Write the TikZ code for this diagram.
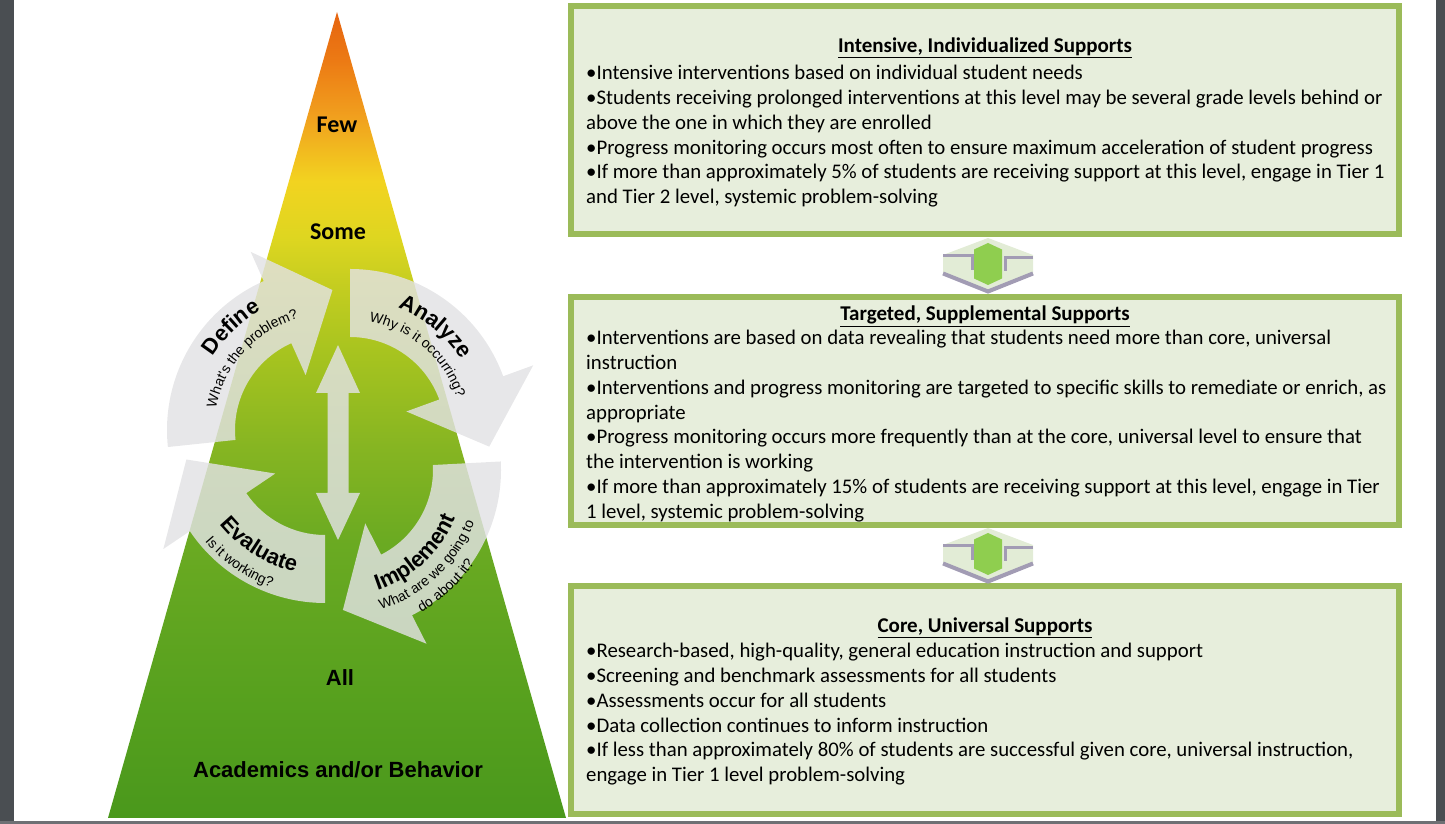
\documentclass[tikz,border=0pt]{standalone}
\usepackage{fontspec}
\setmainfont{Carlito}
\newfontfamily\cyclefont{Liberation Sans}
\usetikzlibrary{positioning,calc,decorations.text}

\definecolor{boxgreen}{RGB}{155,187,89}
\definecolor{boxfill}{RGB}{231,238,220}
\definecolor{edgegray}{RGB}{74,78,82}
\definecolor{bottomgray}{RGB}{110,112,116}
\definecolor{arrowgray}{RGB}{226,226,228}
\definecolor{linkgreen}{RGB}{143,206,79}
\definecolor{linkpale}{RGB}{226,236,214}
\definecolor{linkshade}{RGB}{162,156,180}
\definecolor{pyrA}{RGB}{74,152,28}
\definecolor{pyrB}{RGB}{86,160,30}
\definecolor{pyrC}{RGB}{106,170,34}
\definecolor{pyrD}{RGB}{134,181,34}
\definecolor{pyrE}{RGB}{168,196,31}
\definecolor{pyrF}{RGB}{196,205,32}
\definecolor{pyrG}{RGB}{222,214,32}
\definecolor{pyrH}{RGB}{242,211,32}
\definecolor{pyrI}{RGB}{241,160,30}
\definecolor{pyrJ}{RGB}{236,122,20}
\definecolor{pyrK}{RGB}{230,100,16}

\pgfdeclareverticalshading{pyramidshade}{100bp}{color(0bp)=(pyrA); color(25bp)=(pyrA); color(32bp)=(pyrB); color(42bp)=(pyrC); color(48bp)=(pyrD); color(54bp)=(pyrE); color(58bp)=(pyrF); color(61bp)=(pyrG); color(64.5bp)=(pyrH); color(68.5bp)=(pyrI); color(72bp)=(pyrJ); color(75bp)=(pyrK); color(100bp)=(pyrK)}

\newcommand\stagefont{\cyclefont\bfseries\fontsize{22}{24}\selectfont}
\newcommand\askfont{\cyclefont\fontsize{14}{16}\selectfont}

\begin{document}
\begin{tikzpicture}[x=1pt,y=1pt,
    tierbox/.style={draw=boxgreen,fill=boxfill,line width=6pt,rectangle,minimum width=828pt,minimum height=228pt,inner sep=0pt,outer sep=0pt},
    tiertitle/.style={inner sep=0pt,font=\bfseries\fontsize{21}{24}\selectfont},
    tiertext/.style={inner sep=0pt,align=left,font=\fontsize{20.8}{24.8}\selectfont},
    tierlabel/.style={inner sep=0pt,font=\bfseries\fontsize{24}{28}\selectfont},
    baselabel/.style={inner sep=0pt,font=\cyclefont\bfseries\fontsize{22}{26}\selectfont},
    cyclearrow/.style={fill=arrowgray,fill opacity=0.82},
    steptext/.style={decorate,decoration={text along path,text align=center,text={#1}}}]
    \useasboundingbox (0,0) rectangle (1445,824);

    % pyramid
    \coordinate (apex) at (337,812);
    \coordinate (baseleft) at (108,6);
    \coordinate (baseright) at (566,6);
    \shade[shading=pyramidshade] (baseleft) -- (apex) -- (baseright) -- cycle;

    \node (few) [tierlabel] at (337,699) {Few};
    \node (some) [tierlabel] at (338,592) {Some};
    \node (all) [baselabel] at (340,146) {All};
    \node (academics) [baselabel] at (338,54) {Academics and/or Behavior};

    % problem-solving cycle
    \foreach \cx/\cy/\ta/\tb/\tt in {330/394/186/114/89, 350/392/90/20/-6, 338/354/3/-63/-88, 325/384/-90/-146/-172}{
        \begin{scope}[shift={(\cx,\cy)}]
            \fill[cyclearrow] (\ta:163) arc[start angle=\ta,end angle=\tb,radius=163] -- (\tb:195) -- (\tt:140) -- (\tb:60) -- (\tb:95) arc[start angle=\tb,end angle=\ta,radius=95] -- cycle;
        \end{scope}
    }
    \fill[cyclearrow] (338,479) -- (360,431) -- (348.5,431) -- (348.5,331) -- (360,331) -- (338,284) -- (316,331) -- (327.5,331) -- (327.5,431) -- (316,431) -- cycle;

    \begin{scope}[shift={(330,394)}]
        \path[steptext={|\stagefont|Define}] (172:138) arc[start angle=172,end angle=96,radius=138];
        \path[steptext={|\askfont|What's the problem?}] (185:116) arc[start angle=185,end angle=90,radius=116];
    \end{scope}
    \begin{scope}[shift={(350,392)}]
        \path[steptext={|\stagefont|Analyze}] (96:133) arc[start angle=96,end angle=6,radius=133];
        \path[steptext={|\askfont|Why is it occurring?}] (94:112) arc[start angle=94,end angle=4,radius=112];
    \end{scope}
    \begin{scope}[shift={(338,354)}]
        \path[steptext={|\stagefont|Implement}] (-92:127) arc[start angle=-92,end angle=-2,radius=127];
        \path[steptext={|\askfont|What are we going to}] (-92:146) arc[start angle=-92,end angle=-2,radius=146];
        \path[steptext={|\askfont|do about it?}] (-92:165) arc[start angle=-92,end angle=-2,radius=165];
    \end{scope}
    \begin{scope}[shift={(325,384)}]
        \path[steptext={|\stagefont|Evaluate}] (193:135) arc[start angle=193,end angle=283,radius=135];
        \path[steptext={|\askfont|Is it working?}] (190:157) arc[start angle=190,end angle=280,radius=157];
    \end{scope}

    % tiers
    \node (intensive) [tierbox] at (985,704) {};
    \node (targeted) [tierbox] at (985,413) {};
    \node (core) [tierbox] at (985,124) {};

    \node (intensivetitle) [tiertitle,below=32pt of intensive.north] {\underline{Intensive, Individualized Supports}};
    \node (intensivetext) [tiertext,below right=59pt and 15pt of intensive.north west] {%
        •Intensive interventions based on individual student needs\\
        •Students receiving prolonged interventions at this level may be several grade levels behind or\\
        above the one in which they are enrolled\\
        •Progress monitoring occurs most often to ensure maximum acceleration of student progress\\
        •If more than approximately 5\% of students are receiving support at this level, engage in Tier 1\\
        and Tier 2 level, systemic problem-solving};

    \node (targetedtitle) [tiertitle,below=9pt of targeted.north] {\underline{Targeted, Supplemental Supports}};
    \node (targetedtext) [tiertext,below right=33pt and 15pt of targeted.north west] {%
        •Interventions are based on data revealing that students need more than core, universal\\
        instruction\\
        •Interventions and progress monitoring are targeted to specific skills to remediate or enrich, as\\
        appropriate\\
        •Progress monitoring occurs more frequently than at the core, universal level to ensure that\\
        the intervention is working\\
        •If more than approximately 15\% of students are receiving support at this level, engage in Tier\\
        1 level, systemic problem-solving};

    \node (coretitle) [tiertitle,below=32pt of core.north] {\underline{Core, Universal Supports}};
    \node (coretext) [tiertext,below right=57pt and 15pt of core.north west] {%
        •Research-based, high-quality, general education instruction and support\\
        •Screening and benchmark assessments for all students\\
        •Assessments occur for all students\\
        •Data collection continues to inform instruction\\
        •If less than approximately 80\% of students are successful given core, universal instruction,\\
        engage in Tier 1 level problem-solving};

    % links between tiers
    \foreach \upper/\lower in {intensive/targeted,targeted/core}{
        \begin{scope}[shift={($(\upper.south)!0.5!(\lower.north)+(3,0)$)}]
            \fill[linkpale] (0,27.5) -- (45,10.5) -- (45,-7.5) -- (0,-25) -- (-45,-7.5) -- (-45,10.5) -- cycle;
            \draw[linkshade,line width=4pt] (-45,-8) -- (0,-26) -- (45,-8);
            \draw[linkshade,line width=3pt] (-45,9.5) -- (-16,9.5) -- (-16,-5);
            \draw[linkshade,line width=3pt] (45,8) -- (17,8) -- (17,-6);
            \fill[linkgreen] (0,22.5) -- (14,16) -- (14,-13) -- (0,-19.5) -- (-14,-13) -- (-14,16) -- cycle;
        \end{scope}
    }

    % page edges
    \fill[edgegray] (0,0) rectangle (14,824);
    \fill[edgegray] (1436,0) rectangle (1445,824);
    \fill[bottomgray] (0,0) rectangle (1445,3);
\end{tikzpicture}
\end{document}
